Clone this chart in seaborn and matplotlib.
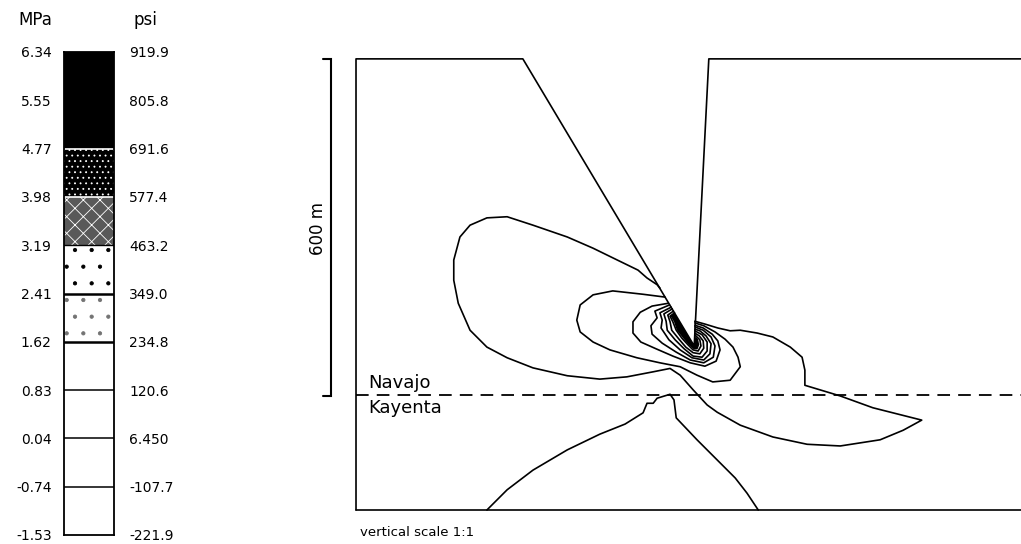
import numpy as np
import pandas as pd
import seaborn as sns
import matplotlib.pyplot as plt

sns.set_style('white')
plt.rcParams['font.family'] = ['DejaVu Sans']
plt.rcParams['hatch.linewidth'] = 0.6
for key in ['text.color', 'axes.labelcolor', 'xtick.color', 'ytick.color']:
    plt.rcParams[key] = 'black'

# ---- legend column (bottom -> top) ----
mpa_levels = ['-1.53', '-0.74', '0.04', '0.83', '1.62', '2.41', '3.19', '3.98', '4.77', '5.55', '6.34']
psi_levels = ['-221.9', '-107.7', '6.450', '120.6', '234.8', '349.0', '463.2', '577.4', '691.6', '805.8', '919.9']
band_style = ['white', 'white', 'white', 'white', 'speck', 'sparse', 'mottled', 'dense', 'black', 'black']

# ---- section geometry (metres, origin at lower left of model) ----
contact_y = 205
outline_x = [0, 0, 297, 602, 628, 1200]
outline_y = [0, 803, 803, 292, 803, 803]
base_x = [0, 1200]
base_y = [0, 0]
scalebar_x = [-58, -44, -44, -58]
scalebar_y = [803, 803, 203, 203]

# ---- stress contours (metres) ----
c1_x = [541, 536, 518, 502, 465, 422, 376, 315, 269, 233, 203, 185, 174, 174, 182, 203, 233, 269, 315, 376,
        434, 482, 529, 559, 577, 600, 625, 643, 684, 742, 803, 862, 933, 974, 1007, 920, 862, 799, 799, 794,
        773, 742, 714, 684, 666, 644, 621, 603]
c1_y = [395, 401, 413, 427, 445, 466, 486, 507, 522, 520, 507, 486, 445, 409, 368, 320, 290, 271, 253, 239,
        233, 237, 246, 252, 240, 214, 187, 174, 151, 130, 117, 114, 125, 142, 160, 182, 203, 222, 249, 272,
        290, 308, 315, 320, 319, 324, 331, 336]
c2_x = [550, 511, 457, 422, 399, 393, 399, 422, 452, 500, 541, 577, 607, 635, 666, 684, 680, 671, 657, 639, 619, 603]
c2_y = [379, 384, 390, 383, 365, 338, 317, 299, 285, 271, 262, 255, 240, 228, 231, 255, 272, 290, 304, 317, 328, 333]
c3_x = [556, 527, 506, 493, 493, 507, 534, 564, 595, 621, 641, 648, 644, 634, 618, 603]
c3_y = [368, 363, 352, 335, 315, 299, 287, 274, 262, 256, 265, 285, 301, 313, 324, 329]
c4_x = [558, 532, 536, 525, 527, 545, 570, 595, 619, 636, 639, 632, 618, 603]
c4_y = [365, 354, 342, 328, 313, 297, 281, 267, 262, 272, 292, 308, 320, 326]
c5_x = [561, 541, 545, 543, 557, 577, 598, 619, 630, 632, 623, 612, 603]
c5_y = [361, 351, 338, 324, 303, 285, 271, 267, 278, 296, 310, 319, 322]
c6_x = [563, 548, 552, 554, 568, 584, 600, 616, 625, 625, 616, 603]
c6_y = [358, 349, 336, 320, 303, 287, 274, 272, 283, 299, 312, 319]
c7_x = [565, 555, 559, 562, 575, 587, 600, 612, 619, 618, 611, 603]
c7_y = [354, 347, 335, 320, 304, 290, 280, 278, 288, 301, 310, 315]
c8_x = [567, 559, 564, 570, 580, 591, 600, 609, 614, 612, 603]
c8_y = [351, 345, 335, 320, 306, 294, 285, 283, 292, 303, 312]
peak_x = [567, 560, 566, 571, 582, 592, 601, 608, 611, 609, 604, 602]
peak_y = [351, 345, 335, 320, 306, 294, 286, 286, 294, 304, 310, 292]
cb_x = [233, 269, 315, 376, 434, 479, 511, 518, 529, 536, 559, 566, 570, 607, 648, 675, 696, 716]
cb_y = [0, 36, 71, 107, 135, 153, 173, 190, 190, 199, 206, 196, 164, 125, 84, 57, 30, 0]

lines = {'outline': (outline_x, outline_y), 'base': (base_x, base_y),
         'c1': (c1_x, c1_y), 'c2': (c2_x, c2_y), 'c3': (c3_x, c3_y), 'c4': (c4_x, c4_y),
         'c5': (c5_x, c5_y), 'c6': (c6_x, c6_y), 'c7': (c7_x, c7_y), 'c8': (c8_x, c8_y),
         'cb': (cb_x, cb_y)}
df = pd.concat([pd.DataFrame({'x': lx, 'y': ly, 'line': name})
                for name, (lx, ly) in lines.items()], ignore_index=True)

fig = plt.figure(figsize=(10.21, 5.44), dpi=100)

# ---- legend column ----
ax_leg = fig.add_axes([64 / 1021, 9 / 544, 50 / 1021, 483 / 544])
styles = {'white': ('white', 'white', None),
          'speck': ('white', '0.45', '.'),
          'sparse': ('white', 'black', '.'),
          'mottled': ('0.35', 'white', 'xx'),
          'dense': ('black', 'white', '...'),
          'black': ('black', 'black', None)}
for i, st in enumerate(band_style):
    face, hcol, hatch = styles[st]
    ax_leg.bar(0.5, 1, bottom=i, width=1, color=face, edgecolor=hcol, hatch=hatch, linewidth=0)
sep_color = ['black', 'black', 'black', 'black', 'black', 'black', 'white', 'white', 'black']
sep_width = [1.1, 1.1, 1.1, 1.8, 1.8, 1.0, 1.2, 1.2, 0]
for i, (c, w) in enumerate(zip(sep_color, sep_width), start=1):
    if w:
        ax_leg.axhline(i, color=c, lw=w)
ax_leg.set_xlim(0, 1)
ax_leg.set_ylim(0, 10)
ax_leg.set_xticks([])
ax_leg.set_yticks(range(len(mpa_levels)))
ax_leg.set_yticklabels(mpa_levels)
ax_leg.tick_params(axis='y', length=0, pad=9, labelsize=10)
for s in ax_leg.spines.values():
    s.set_color('black')
    s.set_linewidth(1.3)
ax_psi = ax_leg.twinx()
ax_psi.set_ylim(0, 10)
ax_psi.set_yticks(range(len(psi_levels)))
ax_psi.set_yticklabels(psi_levels)
ax_psi.tick_params(axis='y', length=0, pad=11, labelsize=10)
for s in ax_psi.spines.values():
    s.set_visible(False)
fig.text(35 / 1021, 1 - 20 / 544, 'MPa', ha='center', va='center', fontsize=12)
fig.text(145 / 1021, 1 - 20 / 544, 'psi', ha='center', va='center', fontsize=12)

# ---- section ----
ax = fig.add_axes([290 / 1021, 0, 731 / 1021, 514 / 544])
ax.fill(peak_x, peak_y, color='black', lw=0)
sns.lineplot(data=df, x='x', y='y', units='line', estimator=None, sort=False,
             color='black', lw=1.2, ax=ax)
ax.plot([0, 1200], [contact_y, contact_y], color='black', lw=1.3, dashes=(7, 4.5))
ax.plot(scalebar_x, scalebar_y, color='black', lw=1.5, solid_joinstyle='miter')
ax.text(-67, 501, '600 m', rotation=90, ha='center', va='center', fontsize=12)
ax.text(21, 217, 'Navajo', ha='left', va='baseline', fontsize=13)
ax.text(21, 173, 'Kayenta', ha='left', va='baseline', fontsize=13)
ax.text(7, -46, 'vertical scale 1:1', ha='left', va='baseline', fontsize=9.5)
ax.set_xlim(-117.5, 1183.7)
ax.set_ylim(-60.5, 854.4)
ax.axis('off')

fig.savefig('out.png', dpi=100)
